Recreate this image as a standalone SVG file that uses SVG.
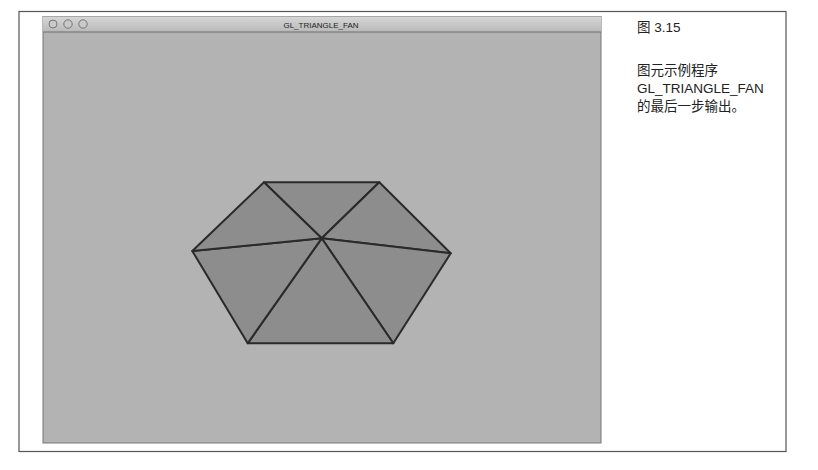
<svg xmlns="http://www.w3.org/2000/svg" width="818" height="470" viewBox="0 0 818 470">
<defs>
<style>
.frame{fill:none;stroke:#555;stroke-width:1.2}
.edge{stroke:#2a2a2a;stroke-width:2;fill:none;stroke-linejoin:round}
.tri{fill:#8d8d8d;stroke:#2a2a2a;stroke-width:2;stroke-linejoin:round}
.cap{font-family:"Liberation Sans","Noto Sans CJK SC",sans-serif;font-size:13.5px;fill:#222}
.title{font-family:"Liberation Sans",sans-serif;font-size:8px;fill:#222}
.btn{fill:#c9c9c9;stroke:#777;stroke-width:1}
</style>
<linearGradient id="tb" x1="0" y1="0" x2="0" y2="1">
<stop offset="0" stop-color="#d6d6d6"/>
<stop offset="1" stop-color="#b9b9b9"/>
</linearGradient>
</defs>
<rect width="818" height="470" fill="#ffffff"/>
<rect class="frame" x="19" y="11.5" width="767" height="440"/>
<g id="window">
<rect x="43" y="16.5" width="558" height="426.5" fill="#b3b3b3" stroke="#777" stroke-width="1"/>
<rect x="43" y="16.5" width="558" height="15.5" fill="url(#tb)"/>
<line x1="43" y1="32" x2="601" y2="32" stroke="#6f6f6f" stroke-width="1"/>
<circle class="btn" cx="53" cy="24" r="4" fill="#9a9a9a"/>
<circle class="btn" cx="68" cy="24" r="4.2"/>
<circle class="btn" cx="83" cy="24" r="4.2"/>
<text class="title" x="321" y="28" text-anchor="middle">GL_TRIANGLE_FAN</text>
</g>
<g id="fan">
<polygon class="tri" points="321.7,238.3 264,182.3 379.3,182.3"/>
<polygon class="tri" points="321.7,238.3 379.3,182.3 450.7,253.3"/>
<polygon class="tri" points="321.7,238.3 450.7,253.3 393.3,343.3"/>
<polygon class="tri" points="321.7,238.3 393.3,343.3 247.7,343.3"/>
<polygon class="tri" points="321.7,238.3 247.7,343.3 192.3,251"/>
<polygon class="tri" points="321.7,238.3 192.3,251 264,182.3"/>
</g>
<g id="caption">
<text class="cap" x="637" y="32">图 3.15</text>
<text class="cap" x="637" y="75">图元示例程序</text>
<text class="cap" x="637" y="93">GL_TRIANGLE_FAN</text>
<text class="cap" x="637" y="111">的最后一步输出。</text>
</g>
</svg>
